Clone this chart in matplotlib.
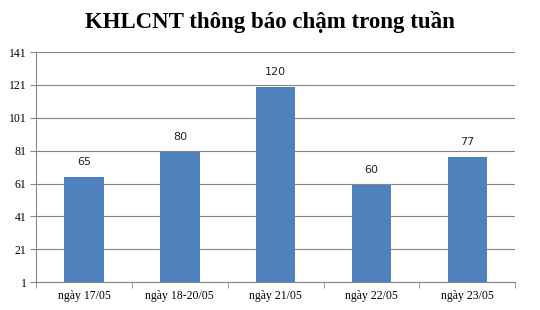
import matplotlib
matplotlib.use("Agg")
import matplotlib.pyplot as plt
import numpy as np

categories = ["ngày 17/05", "ngày 18-20/05", "ngày 21/05", "ngày 22/05", "ngày 23/05"]
values = [65, 80, 120, 60, 77]
yticks = [1, 21, 41, 61, 81, 101, 121, 141]
title = "KHLCNT thông báo chậm trong tuần"

fig = plt.figure(figsize=(5.4, 3.1), dpi=100)
ax = fig.add_axes([0.067, 0.090, 0.887, 0.742])

x = np.arange(len(categories))
ax.bar(x, [v - 1 for v in values], bottom=1, width=0.41, color="#4F81BD", zorder=3)
for xi, v in zip(x, values):
    ax.text(xi, v + 6, str(v), ha="center", va="bottom", fontsize=8,
            family="DejaVu Sans", color="#222222")

ax.set_ylim(1, 141)
ax.set_xlim(-0.5, len(categories) - 0.5)
ax.set_yticks(yticks)
ax.set_yticklabels([str(t) for t in yticks], family="Liberation Serif", fontsize=8.5)
ax.set_xticks(x)
ax.set_xticklabels(categories, family="Liberation Serif", fontsize=8.5)
ax.set_xticks(np.arange(-0.5, len(categories)), minor=True)
ax.tick_params(axis="x", which="major", length=0, pad=6)
ax.tick_params(axis="x", which="minor", length=4, color="#868686")
ax.tick_params(axis="y", length=4, color="#868686", pad=3)
ax.grid(axis="y", color="#868686", linewidth=0.8, zorder=0)
for s in ["top", "right"]:
    ax.spines[s].set_visible(False)
for s in ["left", "bottom"]:
    ax.spines[s].set_color("#868686")
    ax.spines[s].set_linewidth(0.8)

fig.text(0.5, 0.93, title, ha="center", va="center", fontsize=16.5, fontweight="bold",
         family="Liberation Serif")

fig.savefig("out.png", dpi=100)
